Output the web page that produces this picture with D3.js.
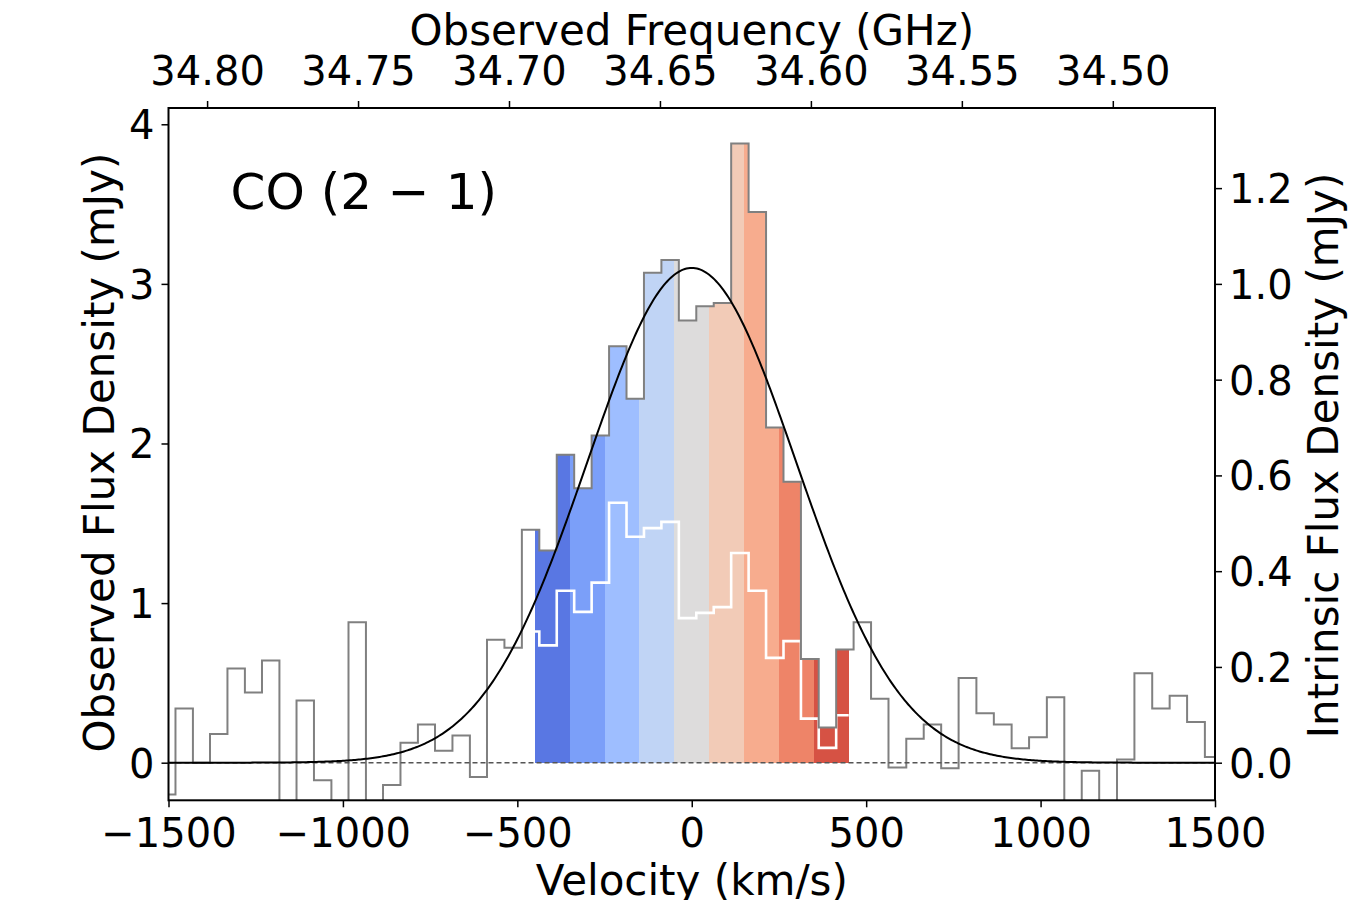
<!DOCTYPE html>
<html>
<head>
<meta charset="utf-8">
<script src="https://cdn.jsdelivr.net/npm/d3@7"></script>
<style>
  body { margin: 0; background: #fff; }
  text { font-family: "DejaVu Sans", sans-serif; fill: #000; }
</style>
</head>
<body>
<svg width="1350" height="900"></svg>
<script>
// channel edges (km/s) and observed flux per channel (mJy)
const binEdges = [-1500, -1480, -1430, -1381, -1331, -1281, -1232, -1182, -1133, -1083, -1033,
  -984, -934, -885, -835, -785, -736, -686, -636, -587, -537, -487, -437, -387, -337, -287,
  -237, -187, -137, -87, -37, 13, 63, 113, 163, 213, 263, 313, 364, 414, 464, 514, 564, 615,
  665, 715, 765, 816, 866, 917, 967, 1018, 1068, 1118, 1168, 1219, 1269, 1320, 1370, 1420, 1471, 1500];
const observedFlux = [-0.20, 0.34, 0.00, 0.18, 0.59, 0.44, 0.64, -0.40, 0.39, -0.11, -0.35, 0.88,
  -0.30, -0.14, 0.125, 0.24, 0.075, 0.17, -0.09, 0.77, 0.72, 1.46, 1.33, 1.93, 1.72, 2.05, 2.61,
  2.28, 3.07, 3.15, 2.77, 2.86, 2.88, 3.88, 3.45, 2.10, 1.76, 0.65, 0.22, 0.71, 0.88, 0.40, -0.03,
  0.15, 0.24, -0.035, 0.53, 0.31, 0.24, 0.09, 0.16, 0.41, -0.30, -0.05, -0.30, 0.02, 0.56, 0.34,
  0.42, 0.255, 0.035];

// intrinsic (lensing-corrected) spectrum, right axis
const intrinsicEdges = [-450, -437, -387, -337, -287, -237, -187, -137, -87, -37, 13, 63, 113,
  163, 213, 263, 313, 364, 414, 450];
const intrinsicFlux = [0.274, 0.245, 0.359, 0.315, 0.376, 0.543, 0.472, 0.490, 0.503, 0.302,
  0.313, 0.325, 0.438, 0.359, 0.219, 0.254, 0.092, 0.031, 0.099];

// velocity channels coloured with coolwarm
const channelEdges = [-450, -350, -250, -150, -50, 50, 150, 250, 350, 450];
const channelColors = ["#5977e3", "#7b9ff9", "#9ebeff", "#c0d4f5", "#dddcdc",
  "#f2cbb7", "#f7ac8e", "#ee8468", "#d65244"];

const velocityTicks = [-1500, -1000, -500, 0, 500, 1000, 1500];
const observedTicks = [0, 1, 2, 3, 4];
const intrinsicTicks = [0.0, 0.2, 0.4, 0.6, 0.8, 1.0, 1.2];
const freqTicks = [34.80, 34.75, 34.70, 34.65, 34.60, 34.55, 34.50];

// gaussian fit
const fitAmp = 3.10, fitCenter = 0, fitSigma = 300;
const lineFreq0 = 34.6386;   // GHz at v = 0
const lightSpeed = 299792.458;
const magRatio = 3;          // observed / intrinsic

const L = 168.5, R = 1215, T = 108, B = 800.3;
const svg = d3.select("svg");

const x = d3.scaleLinear().domain([-1500, 1500]).range([L, R]);
const y = d3.scaleLinear().domain([-0.2356, 4.102]).range([B, T]);
const y2 = d3.scaleLinear().domain([-0.2356 / magRatio, 4.102 / magRatio]).range([B, T]);
const toFreq = v => lineFreq0 / (1 + v / lightSpeed);
const xf = d3.scaleLinear().domain([toFreq(-1500), toFreq(1500)]).range([L, R]);

svg.append("defs").append("clipPath").attr("id", "plot")
  .append("rect").attr("x", L).attr("y", T).attr("width", R - L).attr("height", B - T);
const g = svg.append("g").attr("clip-path", "url(#plot)");

// coloured channel fills under the observed spectrum
const area = d3.area().curve(d3.curveStepAfter)
  .x(d => x(d.v)).y0(y(0)).y1(d => y(d.f));
channelColors.forEach((c, k) => {
  const lo = channelEdges[k], hi = channelEdges[k + 1];
  const pts = [];
  observedFlux.forEach((f, i) => {
    const a = Math.max(binEdges[i], lo), b = Math.min(binEdges[i + 1], hi);
    if (a < b) pts.push({ v: a, f: f });
  });
  pts.push({ v: hi, f: pts[pts.length - 1].f });
  g.append("path").attr("d", area(pts)).attr("fill", c).attr("shape-rendering", "crispEdges");
});

const stepPts = (edges, vals) => edges.map((e, i) => ({ v: e, f: vals[Math.min(i, vals.length - 1)] }));

// intrinsic spectrum (white)
g.append("path")
  .attr("d", d3.line().curve(d3.curveStepAfter).x(d => x(d.v)).y(d => y2(d.f))(stepPts(intrinsicEdges, intrinsicFlux)))
  .attr("fill", "none").attr("stroke", "#fff").attr("stroke-width", 2.6);

// observed spectrum
g.append("path")
  .attr("d", d3.line().curve(d3.curveStepAfter).x(d => x(d.v)).y(d => y(d.f))(stepPts(binEdges, observedFlux)))
  .attr("fill", "none").attr("stroke", "#808080").attr("stroke-width", 2);

// zero line
g.append("line").attr("x1", L).attr("x2", R).attr("y1", y(0)).attr("y2", y(0))
  .attr("stroke", "#555").attr("stroke-width", 1.4).attr("stroke-dasharray", "5,3");

// gaussian model
const model = d3.range(-1500, 1501, 5).map(v => ({ v: v, f: fitAmp * Math.exp(-0.5 * ((v - fitCenter) / fitSigma) ** 2) }));
g.append("path")
  .attr("d", d3.line().x(d => x(d.v)).y(d => y(d.f))(model))
  .attr("fill", "none").attr("stroke", "#000").attr("stroke-width", 2);

// axes
function styleAxis(sel, dy) {
  sel.select(".domain").remove();
  sel.selectAll(".tick line").attr("stroke", "#000").attr("stroke-width", 1.5);
  sel.selectAll(".tick text").attr("font-size", 40).attr("font-family", "DejaVu Sans").attr("fill", "#000");
  if (dy) sel.selectAll(".tick text").attr("dy", dy);
}
svg.append("g").attr("transform", `translate(0,${B})`)
  .call(d3.axisBottom(x).tickValues(velocityTicks).tickSize(7).tickPadding(11).tickFormat(d3.format("d")))
  .call(styleAxis);
svg.append("g").attr("transform", `translate(0,${T})`)
  .call(d3.axisTop(xf).tickValues(freqTicks).tickSize(7).tickPadding(16).tickFormat(d3.format(".2f")))
  .call(styleAxis);
svg.append("g").attr("transform", `translate(${L},0)`)
  .call(d3.axisLeft(y).tickValues(observedTicks).tickSize(7).tickPadding(7).tickFormat(d3.format("d")))
  .call(s => styleAxis(s, "0.36em"));
svg.append("g").attr("transform", `translate(${R},0)`)
  .call(d3.axisRight(y2).tickValues(intrinsicTicks).tickSize(7).tickPadding(7).tickFormat(d3.format(".1f")))
  .call(s => styleAxis(s, "0.36em"));

svg.append("rect").attr("x", L).attr("y", T).attr("width", R - L).attr("height", B - T)
  .attr("fill", "none").attr("stroke", "#000").attr("stroke-width", 2);

// labels
svg.append("text").attr("x", (L + R) / 2).attr("y", 44.5).attr("text-anchor", "middle")
  .attr("font-size", 42).text("Observed Frequency (GHz)");
svg.append("text").attr("x", (L + R) / 2).attr("y", 895).attr("text-anchor", "middle")
  .attr("font-size", 42).text("Velocity (km/s)");
svg.append("text").attr("transform", "translate(114,452.5) rotate(-90)").attr("text-anchor", "middle")
  .attr("font-size", 42).text("Observed Flux Density (mJy)");
svg.append("text").attr("transform", "translate(1338,455.5) rotate(-90)").attr("text-anchor", "middle")
  .attr("font-size", 42).text("Intrinsic Flux Density (mJy)");
svg.append("text").attr("x", 230.5).attr("y", 209).attr("font-size", 50).text("CO (2 \u2212 1)");
</script>
</body>
</html>
